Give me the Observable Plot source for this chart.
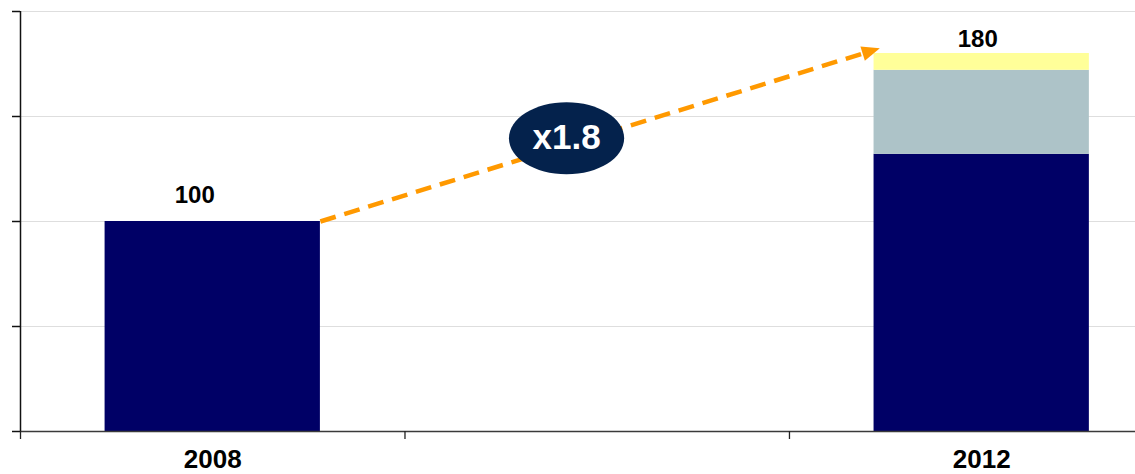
<!DOCTYPE html>
<html>
<head>
<meta charset="utf-8">
<script src="https://cdn.jsdelivr.net/npm/d3@7"></script>
<script src="https://cdn.jsdelivr.net/npm/@observablehq/plot@0.6"></script>
<style>
  html, body { margin: 0; padding: 0; background: #fff; overflow: hidden; }
  #chart svg { display: block; }
</style>
</head>
<body>
<div id="chart"></div>
<script>
// Category slots along the x axis (the middle slot is an empty gap)
const categories = ["2008", "", "2012"];
const years = ["2008", "2012"];

// Stacked segments per year
const segments = ["Base", "Growth", "Other"];
const baseValues = [100, 132];
const growthValues = [0, 40];
const otherValues = [0, 8];
const totals = [100, 180];

const yTicks = [0, 50, 100, 150, 200];
const segmentColors = ["#000066", "#adc3c8", "#ffff99"];

// Layout
const W = 1135, H = 474;
const mLeft = 20, mRight = 0, mTop = 11, mBottom = 43;
const xDomain = [0, 2.9];
const yDomain = [0, 200];
const inset = 0.22; // bar padding inside each slot
const slot = (year) => categories.indexOf(year);

// Stack the segments into y1/y2 extents
const rows = [];
years.forEach((year, i) => {
  let acc = 0;
  [baseValues, growthValues, otherValues].forEach((arr, s) => {
    const v = arr[i];
    if (v > 0) rows.push({year, seg: segments[s], y1: acc, y2: acc + v});
    acc += v;
  });
});

// Growth arrow: from the top-right corner of the first bar to just past the
// top-left corner of the last bar
const arrowStart = {x: slot(years[0]) + 1 - inset, y: totals[0]};
const arrowTip = {x: slot(years[1]) + inset + 0.015, y: totals[1] + 2.5};
const shaft = 0.97; // dashed shaft stops under the arrowhead
const arrowLine = [{
  x1: arrowStart.x, y1: arrowStart.y,
  x2: arrowStart.x + (arrowTip.x - arrowStart.x) * shaft,
  y2: arrowStart.y + (arrowTip.y - arrowStart.y) * shaft
}];
const kx = (W - mLeft - mRight) / (xDomain[1] - xDomain[0]);
const ky = (H - mTop - mBottom) / (yDomain[1] - yDomain[0]);
const arrowAngle = Math.atan2(-(arrowTip.y - arrowStart.y) * ky, (arrowTip.x - arrowStart.x) * kx) * 180 / Math.PI;

// Growth multiple badge sitting on the arrow
const growthFactor = totals[1] / totals[0];
const badgeT = 0.44;
const badge = [{
  x: arrowStart.x + (arrowTip.x - arrowStart.x) * badgeT,
  y: arrowStart.y + (arrowTip.y - arrowStart.y) * badgeT,
  label: "x" + growthFactor.toFixed(1)
}];

// Custom symbols: a wide ellipse and a filled arrowhead pointing along +x
const ellipseSymbol = {
  draw(ctx, size) {
    const r = Math.sqrt(size / Math.PI);
    const rx = r * 1.6, ry = r, k = 0.5523;
    ctx.moveTo(rx, 0);
    ctx.bezierCurveTo(rx, k * ry, k * rx, ry, 0, ry);
    ctx.bezierCurveTo(-k * rx, ry, -rx, k * ry, -rx, 0);
    ctx.bezierCurveTo(-rx, -k * ry, -k * rx, -ry, 0, -ry);
    ctx.bezierCurveTo(k * rx, -ry, rx, -k * ry, rx, 0);
    ctx.closePath();
  }
};
const headSymbol = {
  draw(ctx, size) {
    const r = Math.sqrt(size / Math.PI);
    const L = r * 1.8, w = r * 0.75;
    ctx.moveTo(0, 0);
    ctx.lineTo(-L, -w);
    ctx.lineTo(-L, w);
    ctx.closePath();
  }
};

const font = "'Liberation Sans', Arial, Helvetica, sans-serif";

const chart = Plot.plot({
  width: W,
  height: H,
  marginLeft: mLeft,
  marginRight: mRight,
  marginTop: mTop,
  marginBottom: mBottom,
  style: {fontFamily: font, background: "#fff", color: "#000"},
  x: {type: "linear", domain: xDomain, axis: null},
  y: {domain: yDomain, axis: null},
  color: {domain: segments, range: segmentColors},
  marks: [
    // horizontal gridlines
    Plot.ruleY(yTicks.slice(1), {stroke: "#dedede", strokeWidth: 1.2}),
    // stacked bars
    Plot.rect(rows, {
      x1: d => slot(d.year) + inset,
      x2: d => slot(d.year) + 1 - inset,
      y1: "y1",
      y2: "y2",
      fill: "seg"
    }),
    // axes
    Plot.ruleY([0], {stroke: "#3a3a3a", strokeWidth: 1.5}),
    Plot.ruleX([0], {y1: yDomain[0], y2: yDomain[1], stroke: "#111", strokeWidth: 1.5}),
    Plot.axisY({ticks: yTicks, tickSize: 8, tickFormat: () => "", label: null, stroke: "#111", strokeWidth: 1.5}),
    Plot.axisX({ticks: [0, 1, 2], tickSize: 8, tickFormat: () => "", label: null, stroke: "#222", strokeWidth: 1.3}),
    // category labels
    Plot.text(years, {
      x: d => slot(d) + 0.5,
      y: 0,
      text: d => d,
      lineAnchor: "top",
      dy: 18,
      fontSize: 26,
      fontWeight: "bold",
      fill: "#000"
    }),
    // total labels
    Plot.text([{year: years[0], total: totals[0]}], {
      x: d => slot(d.year) + 0.5, y: "total", text: d => String(d.total),
      lineAnchor: "bottom", dx: -18, dy: -19, fontSize: 24, fontWeight: "bold", fill: "#000"
    }),
    Plot.text([{year: years[1], total: totals[1]}], {
      x: d => slot(d.year) + 0.5, y: "total", text: d => String(d.total),
      lineAnchor: "bottom", dx: -4, dy: -7, fontSize: 24, fontWeight: "bold", fill: "#000"
    }),
    // growth arrow
    Plot.link(arrowLine, {
      x1: "x1", y1: "y1", x2: "x2", y2: "y2",
      stroke: "#ff9900", strokeWidth: 4.5, strokeDasharray: "16,9"
    }),
    Plot.dot([arrowTip], {
      x: "x", y: "y", r: 10, symbol: headSymbol,
      fill: "#ff9900", stroke: "none", rotate: arrowAngle
    }),
    // growth multiple badge
    Plot.dot(badge, {
      x: "x", y: "y", r: 36, symbol: ellipseSymbol,
      fill: "#04224c", stroke: "none", dy: -7
    }),
    Plot.text(badge, {
      x: "x", y: "y", text: "label", dy: -7,
      fill: "#fff", fontSize: 35, fontWeight: "bold"
    })
  ]
});

document.getElementById("chart").appendChild(chart);
</script>
</body>
</html>
